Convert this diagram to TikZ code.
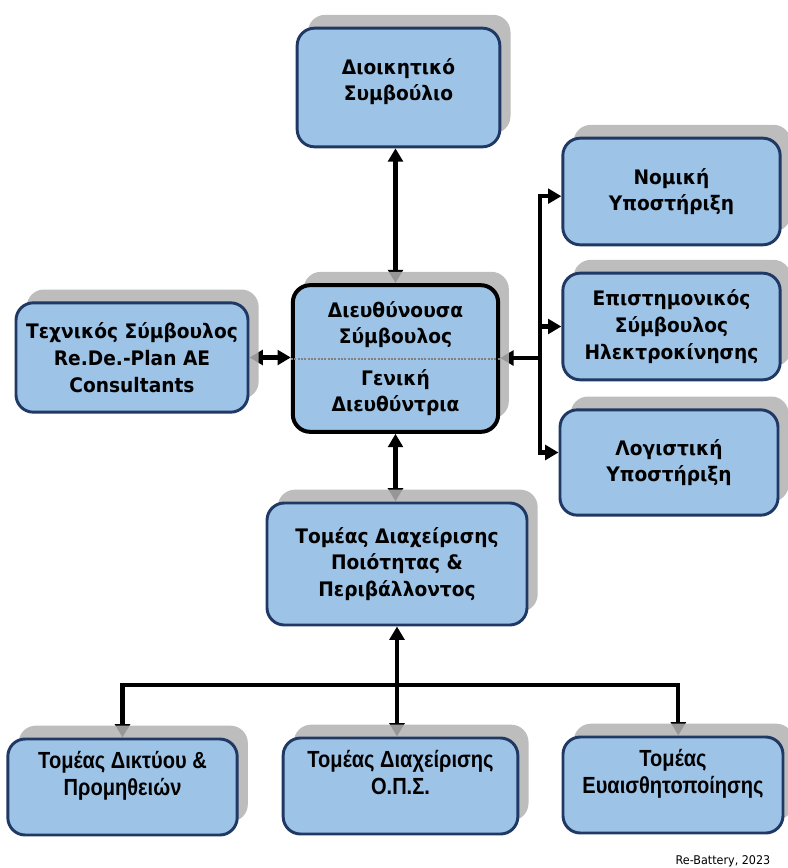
\documentclass[tikz,border=0pt]{standalone}
\usepackage{fontspec}
\usetikzlibrary{arrows.meta,shadows}
\newfontfamily\boxfont{DejaVu Sans}[FakeStretch=0.93]
\newfontfamily\narrowfont{Liberation Sans}[FakeStretch=0.86]
\definecolor{boxfill}{RGB}{157,195,230}
\definecolor{boxline}{RGB}{31,56,100}
\pgfdeclarelayer{background}
\pgfsetlayers{background,main}
\tikzset{
  unit/.style={draw=boxline, line width=2.2pt, fill=boxfill, rounded corners=13pt,
    align=center, inner sep=2pt, font=\boxfont\bfseries\fontsize{15}{20}\selectfont,
    general shadow={fill=gray!60, fill opacity=0.85, shadow xshift=8pt, shadow yshift=10pt}},
  lowunit/.style={unit, font=\narrowfont\bfseries\fontsize{17.5}{20}\selectfont},
  link/.style={line width=3.2pt, -{Triangle[length=10pt,width=11pt]}},
  twoway/.style={link, {Triangle[length=10pt,width=11pt]}-{Triangle[length=10pt,width=11pt]}}
}

\begin{document}
\begin{tikzpicture}[x=0.75pt,y=-0.75pt]
    \useasboundingbox (0,0) rectangle (788,868);
    % Draw the boxes
    \node[unit, minimum width=152pt, minimum height=89pt] (board) at (398.5,87.5) {Διοικητικό\\Συμβούλιο\\[-8pt]\mbox{}};
    \node[unit, draw=black, line width=3pt, minimum width=154pt, minimum height=110pt] (ceo) at (395.5,358.5)
        {Διευθύνουσα\\Σύμβουλος\\[11pt]Γενική\\Διευθύντρια};
    \node[unit, minimum width=174pt, minimum height=82pt] (tech) at (132,357.5) {Τεχνικός Σύμβουλος\\Re.De.-Plan AE\\Consultants};
    \node[unit, minimum width=163pt, minimum height=80pt] (legal) at (671.5,191.5) {Νομική\\Υποστήριξη};
    \node[unit, minimum width=163pt, minimum height=80pt] (sci) at (671.5,326.5) {Επιστημονικός\\Σύμβουλος\\Ηλεκτροκίνησης};
    \node[unit, minimum width=163.5pt, minimum height=79pt] (acc) at (669,462.5) {Λογιστική\\Υποστήριξη};
    \node[unit, minimum width=195pt, minimum height=91.5pt] (qual) at (397,564) {Τομέας Διαχείρισης\\Ποιότητας \&\\Περιβάλλοντος};
    \node[lowunit, minimum width=172pt, minimum height=72pt] (net) at (122.5,787) {Τομέας Δικτύου \&\\Προμηθειών\\\mbox{}};
    \node[lowunit, minimum width=176pt, minimum height=72pt] (ops) at (400.5,786) {Τομέας Διαχείρισης\\Ο.Π.Σ.\\\mbox{}};
    \node[lowunit, minimum width=165pt, minimum height=72pt] (aware) at (673,785) {Τομέας\\Ευαισθητοποίησης\\\mbox{}};
    \draw[gray, densely dotted, line width=1.5pt] (ceo.west) -- (ceo.east); % line through the centre box
    % Draw the connectors
    \coordinate (rbus) at (540,358);
    \coordinate (bbus) at (397,685);
    \begin{pgfonlayer}{background}
    \draw[twoway] (ceo.north) -- (ceo.north |- board.south);
    \draw[twoway] (tech.east) -- (tech.east -| ceo.west);
    \draw[twoway] (ceo.south) -- (ceo.south |- qual.north);
    \draw[twoway] (qual.south) -- (qual.south |- ops.north);
    \draw[link] (rbus) -- (rbus -| ceo.east);
    \draw[link] (rbus) |- ([yshift=-3.5]legal.west);
    \draw[link] (rbus) |- ([yshift=7.5]acc.west);
    \draw[link] (rbus |- sci.west) -- (sci.west);
    \draw[link] (bbus) -| (net.north);
    \draw[link] (bbus) -| ([xshift=4]aware.north);
    \end{pgfonlayer}
    % Credit line
    \node[font=\boxfont\fontsize{9}{10}\selectfont] (credit) at (723,861) {Re-Battery, 2023};
\end{tikzpicture}
\end{document}
